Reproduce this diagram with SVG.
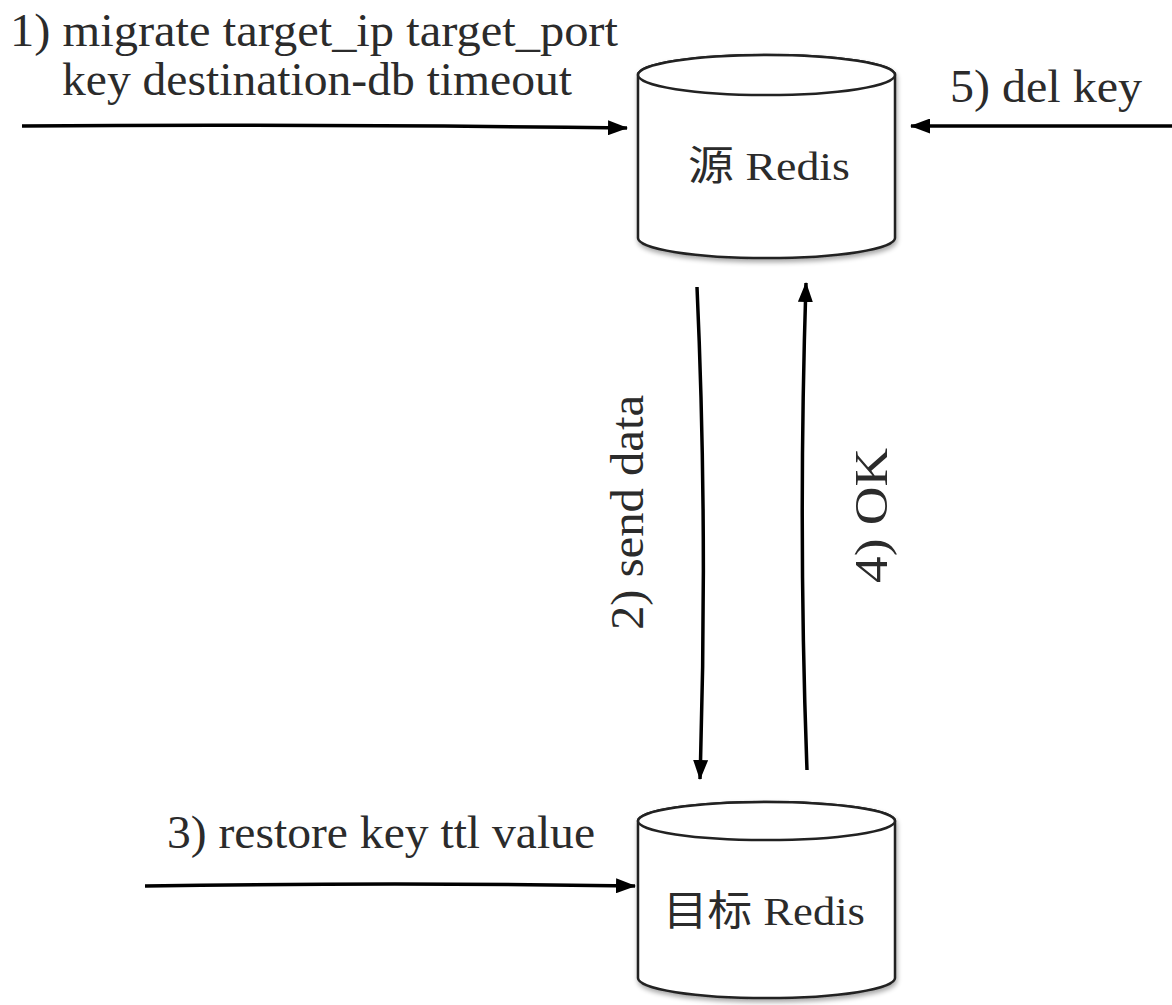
<svg xmlns="http://www.w3.org/2000/svg" width="1172" height="1005" viewBox="0 0 1172 1005">
<style>
.lbl{font-family:"Liberation Serif","Noto Sans CJK SC",serif;font-size:46px;fill:#2b2b2b}
.nl{font-family:"Liberation Serif","Noto Sans CJK SC",serif;font-size:41px;fill:#2b2b2b}
.cyl{fill:#fff;stroke:#222;stroke-width:2.5}
.edge{fill:none;stroke:#000;stroke-width:3.5;marker-end:url(#ah)}
</style>
<defs>
<marker id="ah" markerUnits="userSpaceOnUse" markerWidth="20" markerHeight="15" refX="19" refY="7.5" orient="auto">
<path d="M0,0 L20,7.5 L0,15 z" fill="#000"/>
</marker>
<filter id="sh" x="-10%" y="-10%" width="130%" height="130%">
<feGaussianBlur in="SourceAlpha" stdDeviation="2.5"/>
<feOffset dx="1" dy="3" result="b"/>
<feComponentTransfer><feFuncA type="linear" slope="0.35"/></feComponentTransfer>
<feMerge><feMergeNode/><feMergeNode in="SourceGraphic"/></feMerge>
</filter>
</defs>
<rect width="1172" height="1005" fill="#fff"/>
<g id="src">
<path class="cyl" filter="url(#sh)" d="M638,75 L638,238 A128.5,20 0 0 0 895,238 L895,75 A128.5,20 0 0 0 638,75 Z"/>
<ellipse class="cyl" cx="766.5" cy="75" rx="128.5" ry="20"/>
<text class="nl" x="688" y="180" textLength="162" lengthAdjust="spacingAndGlyphs">源 Redis</text>
</g>
<g id="dst">
<path class="cyl" filter="url(#sh)" d="M638,821 L638,978 A128.5,20 0 0 0 895,978 L895,821 A128.5,19 0 0 0 638,821 Z"/>
<ellipse class="cyl" cx="766.5" cy="821" rx="128.5" ry="19"/>
<text class="nl" x="663" y="925" textLength="202" lengthAdjust="spacingAndGlyphs">目标 Redis</text>
</g>
<g id="connectors">
<path class="edge" d="M22,126 Q300,124 627,128"/>
<path class="edge" d="M1172,126 L911,126"/>
<path class="edge" d="M145,886 Q400,882 635,886"/>
<path class="edge" d="M697,287 Q708,530 700,779"/>
<path class="edge" d="M807,770 Q798,530 806,283"/>
</g>
<g id="labels">
<text class="lbl" x="10" y="46" textLength="608" lengthAdjust="spacingAndGlyphs">1) migrate target_ip target_port</text>
<text class="lbl" x="62" y="95" textLength="510" lengthAdjust="spacingAndGlyphs">key destination-db timeout</text>
<text class="lbl" x="950" y="102" textLength="192" lengthAdjust="spacingAndGlyphs">5) del key</text>
<text class="lbl" x="167" y="848" textLength="428" lengthAdjust="spacingAndGlyphs">3) restore key ttl value</text>
<text class="lbl" transform="translate(643,630) rotate(-90)" textLength="235" lengthAdjust="spacingAndGlyphs">2) send data</text>
<text class="lbl" transform="translate(887,583) rotate(-90)" textLength="135" lengthAdjust="spacingAndGlyphs">4) OK</text>
</g>
</svg>
